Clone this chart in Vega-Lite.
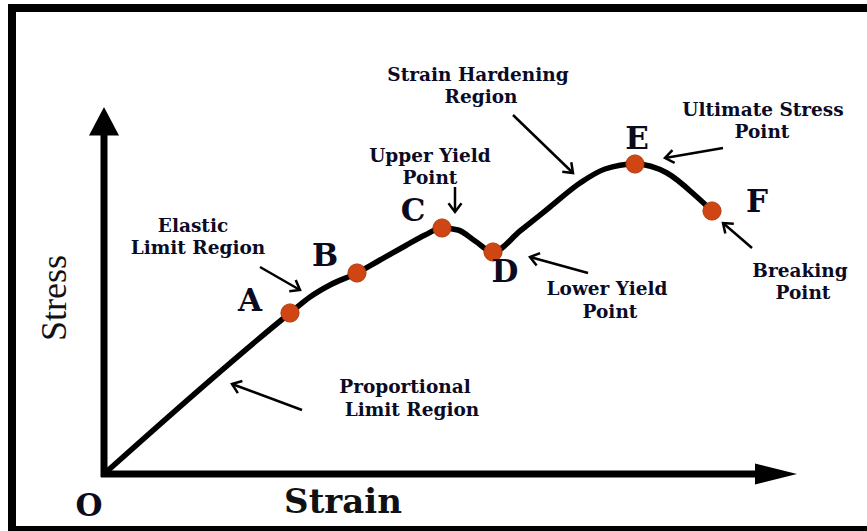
{
  "$schema": "https://vega.github.io/schema/vega-lite/v6.json",
  "width": 867,
  "height": 531,
  "autosize": {"type": "none"},
  "padding": 0,
  "background": "white",
  "config": {"view": {"stroke": null}},
  "datasets": {
    "curve": [
      {"x": 0, "y": 0}, {"x": 186, "y": 161}, {"x": 206, "y": 177}, {"x": 226, "y": 189},
      {"x": 253, "y": 201}, {"x": 276, "y": 214}, {"x": 301, "y": 228}, {"x": 321, "y": 239},
      {"x": 338, "y": 246}, {"x": 354, "y": 244}, {"x": 371, "y": 233}, {"x": 389, "y": 222},
      {"x": 416, "y": 243}, {"x": 446, "y": 267}, {"x": 476, "y": 291}, {"x": 501, "y": 305},
      {"x": 531, "y": 310}, {"x": 563, "y": 301}, {"x": 593, "y": 277}, {"x": 608, "y": 263}
    ],
    "points": [
      {"x": 186, "y": 161, "label": "A"}, {"x": 253, "y": 201, "label": "B"},
      {"x": 338, "y": 246, "label": "C"}, {"x": 389, "y": 222, "label": "D"},
      {"x": 531, "y": 310, "label": "E"}, {"x": 608, "y": 263, "label": "F"}
    ],
    "letters": [
      {"x": 146, "y": 172, "label": "A"}, {"x": 221, "y": 217, "label": "B"},
      {"x": 309, "y": 262, "label": "C"}, {"x": 401, "y": 201, "label": "D"},
      {"x": 533, "y": 334, "label": "E"}, {"x": 653, "y": 271, "label": "F"}
    ],
    "notes": [
      {"x": 89, "y": 248, "label": "Elastic"}, {"x": 94, "y": 226, "label": "Limit Region"},
      {"x": 301, "y": 87, "label": "Proportional"}, {"x": 308, "y": 64, "label": "Limit Region"},
      {"x": 326, "y": 318, "label": "Upper Yield"}, {"x": 326, "y": 296, "label": "Point"},
      {"x": 374, "y": 399, "label": "Strain Hardening"}, {"x": 377, "y": 377, "label": "Region"},
      {"x": 659, "y": 364, "label": "Ultimate Stress"}, {"x": 658, "y": 342, "label": "Point"},
      {"x": 503, "y": 185, "label": "Lower Yield"}, {"x": 506, "y": 162, "label": "Point"},
      {"x": 696, "y": 203, "label": "Breaking"}, {"x": 699, "y": 181, "label": "Point"}
    ],
    "arrows": [
      {"x": 198, "y": 64, "x2": 128, "y2": 90},
      {"x": 156, "y": 207, "x2": 196, "y2": 184},
      {"x": 351, "y": 287, "x2": 351, "y2": 262},
      {"x": 409, "y": 359, "x2": 469, "y2": 301},
      {"x": 619, "y": 326, "x2": 561, "y2": 316},
      {"x": 484, "y": 201, "x2": 426, "y2": 217},
      {"x": 648, "y": 226, "x2": 619, "y2": 251}
    ],
    "axes": [
      {"x": 0, "y": -3, "x2": 0, "y2": 342},
      {"x": -3, "y": 0, "x2": 655, "y2": 0}
    ],
    "frame": [
      {"x": -92, "y": -57, "x2": -92, "y2": 470},
      {"x": -96, "y": 466, "x2": 763, "y2": 466}
    ],
    "frameBottom": [
      {"x": -96, "y": -54.5, "x2": 763, "y2": -54.5}
    ],
    "yhead": [{"x": 0, "y": 352}],
    "xhead": [{"x": 672, "y": 0}],
    "origin": [{"x": -15, "y": -33, "label": "O"}],
    "xtitle": [{"x": 239, "y": -29, "label": "Strain"}],
    "ytitle": [{"x": -49, "y": 176, "label": "Stress"}]
  },
  "encoding": {
    "x": {"field": "x", "type": "quantitative", "scale": {"domain": [-104, 763], "nice": false, "zero": false}, "axis": null},
    "y": {"field": "y", "type": "quantitative", "scale": {"domain": [-57, 474], "nice": false, "zero": false}, "axis": null}
  },
  "layer": [
    {
      "data": {"name": "frame"},
      "mark": {"type": "rule", "color": "black", "strokeWidth": 8, "strokeCap": "butt"},
      "encoding": {"x2": {"field": "x2"}, "y2": {"field": "y2"}}
    },
    {
      "data": {"name": "frameBottom"},
      "mark": {"type": "rule", "color": "black", "strokeWidth": 5, "strokeCap": "butt"},
      "encoding": {"x2": {"field": "x2"}, "y2": {"field": "y2"}}
    },
    {
      "data": {"name": "axes"},
      "mark": {"type": "rule", "color": "black", "strokeWidth": 7, "strokeCap": "butt"},
      "encoding": {"x2": {"field": "x2"}, "y2": {"field": "y2"}}
    },
    {
      "data": {"name": "yhead"},
      "mark": {"type": "point", "shape": "M0,-1L-1,0.9L1,0.9Z", "size": 900, "filled": true, "color": "black", "opacity": 1},
      "encoding": {}
    },
    {
      "data": {"name": "xhead"},
      "mark": {"type": "point", "shape": "M1,0L-1,-0.5L-1,0.5Z", "size": 1764, "filled": true, "color": "black", "opacity": 1},
      "encoding": {}
    },
    {
      "data": {"name": "curve"},
      "mark": {"type": "line", "interpolate": "monotone", "color": "black", "strokeWidth": 5.5, "strokeCap": "round"},
      "encoding": {}
    },
    {
      "data": {"name": "arrows"},
      "mark": {"type": "rule", "color": "black", "strokeWidth": 2.5},
      "encoding": {"x2": {"field": "x2"}, "y2": {"field": "y2"}}
    },
    {
      "data": {"name": "arrows"},
      "transform": [
        {"calculate": "atan2(-(datum.y2 - datum.y), datum.x2 - datum.x) * 180 / PI", "as": "ang"}
      ],
      "mark": {"type": "point", "shape": "M-1,-0.75L0,0L-1,0.75", "size": 300, "filled": false, "color": "black", "strokeWidth": 2.5, "opacity": 1},
      "encoding": {
        "x": {"field": "x2", "type": "quantitative"},
        "y": {"field": "y2", "type": "quantitative"},
        "angle": {"field": "ang", "type": "quantitative", "scale": null}
      }
    },
    {
      "data": {"name": "points"},
      "mark": {"type": "point", "shape": "circle", "size": 330, "filled": true, "color": "#cf4513", "stroke": "#b23a0c", "strokeWidth": 1, "opacity": 1},
      "encoding": {}
    },
    {
      "data": {"name": "letters"},
      "mark": {"type": "text", "font": "DejaVu Serif", "fontWeight": "bold", "fontSize": 31, "color": "#0b0b20", "align": "center", "baseline": "middle"},
      "encoding": {"text": {"field": "label"}}
    },
    {
      "data": {"name": "notes"},
      "mark": {"type": "text", "font": "DejaVu Serif", "fontWeight": "bold", "fontSize": 18.5, "color": "#0b0b26", "align": "center", "baseline": "middle"},
      "encoding": {"text": {"field": "label"}}
    },
    {
      "data": {"name": "origin"},
      "mark": {"type": "text", "font": "DejaVu Serif", "fontWeight": "bold", "fontSize": 31, "color": "#0b0b20", "align": "center", "baseline": "middle"},
      "encoding": {"text": {"field": "label"}}
    },
    {
      "data": {"name": "xtitle"},
      "mark": {"type": "text", "font": "DejaVu Serif", "fontWeight": "bold", "fontSize": 34, "color": "#111111", "align": "center", "baseline": "middle"},
      "encoding": {"text": {"field": "label"}}
    },
    {
      "data": {"name": "ytitle"},
      "mark": {"type": "text", "font": "Liberation Serif", "fontWeight": "normal", "fontSize": 36, "color": "#111111", "align": "center", "baseline": "middle", "angle": 270},
      "encoding": {"text": {"field": "label"}}
    }
  ]
}
